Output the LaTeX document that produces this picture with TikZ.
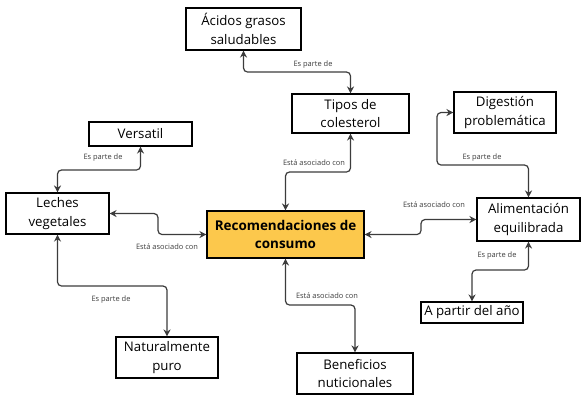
\documentclass[tikz,border=0pt]{standalone}
\usepackage{fontspec}
\setmainfont{Open Sans}
\usetikzlibrary{arrows.meta}
\definecolor{gold}{RGB}{252,200,76}
\definecolor{conn}{RGB}{60,60,60}
\begin{document}
\begin{tikzpicture}[x=1bp,y=-1bp,
  box/.style={draw=black,line width=1.1bp,fill=white,inner sep=0pt,align=center,font=\fontsize{13.3}{18.5}\selectfont},
  mainbox/.style={box,fill=gold,font=\fontsize{13.5}{18.5}\selectfont\bfseries},
  conn/.style={draw=conn,line width=1.2bp,rounded corners=4bp,{Stealth[length=7bp,width=7bp]}-{Stealth[length=7bp,width=7bp]}},
  lbl/.style={font=\fontsize{7.5}{9}\selectfont,text=conn,inner sep=1bp}]
\useasboundingbox (0,0) rectangle (588,400);
\fill[white] (0,0) rectangle (588,400);
% nodes
\node[box,minimum width=115bp,minimum height=42bp] (acidos) at (243.5,29) {Ácidos grasos\\saludables};
\node[box,minimum width=117bp,minimum height=39bp] (tipos) at (350.5,113.5) {Tipos de\\colesterol};
\node[box,minimum width=102bp,minimum height=41bp] (dig) at (505,112.5) {Digestión\\problemática};
\node[box,minimum width=103bp,minimum height=24bp] (vers) at (140.5,134) {Versatil};
\node[box,minimum width=103bp,minimum height=41bp] (leches) at (57.5,213.5) {Leches\\vegetales};
\node[mainbox,minimum width=157bp,minimum height=47bp] (rec) at (285.5,234.5) {Recomendaciones de\\consumo};
\node[box,minimum width=103bp,minimum height=43bp] (alim) at (528.5,219.5) {Alimentación\\equilibrada};
\node[box,minimum width=102bp,minimum height=21bp] (apartir) at (472,312.5) {A partir del año};
\node[box,minimum width=102bp,minimum height=41bp] (nat) at (167,357.5) {Naturalmente\\puro};
\node[box,minimum width=116bp,minimum height=41bp] (ben) at (355,373.5) {Beneficios\\nuticionales};
% bend coordinates
\coordinate (c1) at (300,72);
\coordinate (c2) at (300,172);
\coordinate (c3) at (100,170);
\coordinate (c4) at (158,224);
\coordinate (c5) at (100,286);
\coordinate (c6) at (320,305);
\coordinate (c7) at (421,226);
\coordinate (c8) at (437,165);
\coordinate (c9) at (500,270);
% connectors
\draw[conn] (tipos.north) -- (tipos.north |- c1) -| (acidos.south);
\draw[conn] (rec.north) -- (rec.north |- c2) -| (tipos.south);
\draw[conn] (vers.south) -- (vers.south |- c3) -| (leches.north);
\draw[conn] (leches.east) -- (leches.east -| c4) |- (rec.west);
\draw[conn] (leches.south) -- (leches.south |- c5) -| (nat.north);
\draw[conn] (rec.south) -- (rec.south |- c6) -| (ben.north);
\draw[conn] (rec.east) -- (rec.east -| c7) |- (alim.west);
\draw[conn] (dig.west) -- (dig.west -| c8) -- (c8) -| (alim.north);
\draw[conn] (alim.south) -- (alim.south |- c9) -| (apartir.north);
% labels
\node[lbl] (l1) at (313,65) {Es parte de};
\node[lbl] (l2) at (314,163) {Está asociado con};
\node[lbl] (l3) at (103,158) {Es parte de};
\node[lbl] (l4) at (167,247) {Está asociado con};
\node[lbl] (l5) at (111,300) {Es parte de};
\node[lbl] (l6) at (327,296) {Está asociado con};
\node[lbl] (l7) at (434,205) {Está asociado con};
\node[lbl] (l8) at (482,158) {Es parte de};
\node[lbl] (l9) at (497,256) {Es parte de};
\end{tikzpicture}
\end{document}
